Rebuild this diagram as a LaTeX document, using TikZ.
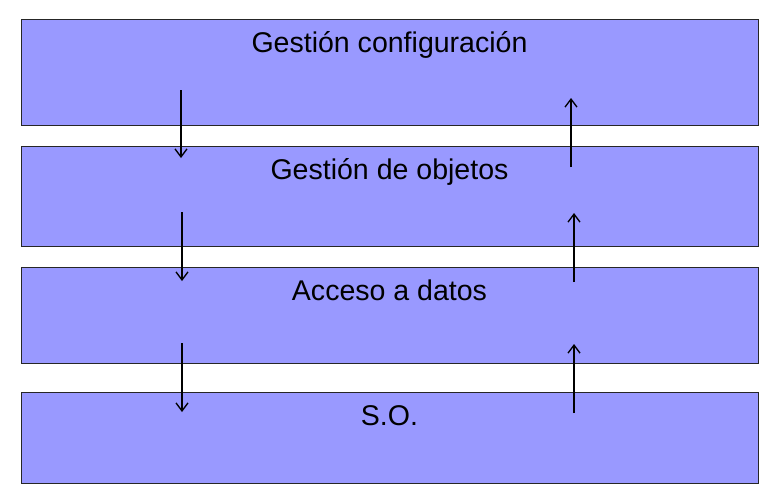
\documentclass[tikz,border=0pt]{standalone}
\usepackage{fontspec}
\setmainfont{Liberation Sans}
\usetikzlibrary{arrows.meta}
\definecolor{capaazul}{HTML}{9999FF}
\tikzset{
  capa/.style={draw=black!85, line width=0.75pt, fill=capaazul, rectangle, inner sep=0pt,
    minimum width=552.75pt},
  rotulo/.style={anchor=base, inner sep=0pt, font=\fontsize{21.4}{25}\selectfont},
  flecha/.style={->, line width=1pt}
}
\begin{document}
\begin{tikzpicture}[x=0.75pt, y=-0.75pt, >={Straight Barb[length=6pt,width=9pt]}]
  \useasboundingbox (0,0) rectangle (778,494);
  % capas
  \foreach \n/\top/\bot/\txt in {gc/19/125/Gestión configuración, go/146/246/Gestión de objetos,
      ad/267/363/Acceso a datos, so/392/483/S.O.} {
    \node[capa, minimum height={(\bot-\top)*0.75pt}] (\n) at (389.5, {(\top+\bot)/2}) {};
    \node[rotulo] (\n-t) at ([yshift=-25.5pt]\n.north) {\txt};
  }
  % flechas de bajada y de subida
  \foreach \i/\x/\ya/\yb in {1/181/90/158, 2/182/212/281, 3/182/343/412} {
    \coordinate (baja\i-a) at (\x,\ya);
    \coordinate (baja\i-b) at (\x,\yb);
    \draw[flecha] (baja\i-a) -- (baja\i-b);
  }
  \foreach \i/\x/\ya/\yb in {1/571/167/98, 2/574/282/213, 3/574/413/344} {
    \coordinate (sube\i-a) at (\x,\ya);
    \coordinate (sube\i-b) at (\x,\yb);
    \draw[flecha] (sube\i-a) -- (sube\i-b);
  }
\end{tikzpicture}
\end{document}
